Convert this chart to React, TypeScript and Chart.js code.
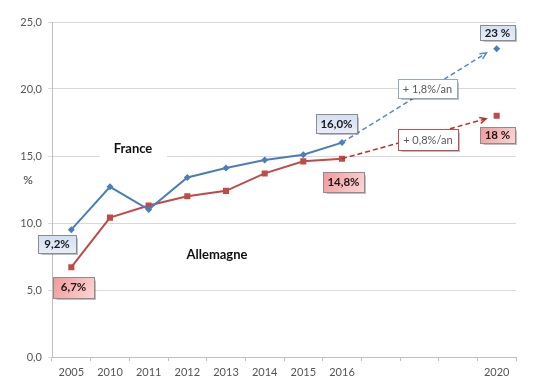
import React, { useEffect, useRef } from "react";
import { Chart, registerables } from "chart.js";

Chart.register(...registerables);

const categories = ["2005", "2010", "2011", "2012", "2013", "2014", "2015", "2016", "", "", "", "2020"];
const france = [9.5, 12.7, 11.0, 13.4, 14.1, 14.7, 15.1, 16.0, null, null, null, 23.0];
const allemagne = [6.7, 10.4, 11.3, 12.0, 12.4, 13.7, 14.6, 14.8, null, null, null, 18.0];
const yTicks = [0, 5, 10, 15, 20, 25];

const BLUE = "#4A7EBB";
const RED = "#BE4B48";
const FONT = "Lato, 'Liberation Sans', sans-serif";

type Box = { text: string; x: number; y: number; w: number; h: number; kind: "blue" | "red" | "plainBlue" | "plainRed" };
const boxes: Box[] = [
  { text: "9,2%", x: -0.37, y: 8.43, w: 38, h: 18, kind: "blue" },
  { text: "6,7%", x: 0.056, y: 5.22, w: 41, h: 21, kind: "red" },
  { text: "16,0%", x: 6.857, y: 17.43, w: 41, h: 19, kind: "blue" },
  { text: "14,8%", x: 7.038, y: 13.06, w: 41, h: 20, kind: "red" },
  { text: "23 %", x: 11.02, y: 24.22, w: 35, h: 15, kind: "blue" },
  { text: "18 %", x: 11.02, y: 16.57, w: 35, h: 16, kind: "red" },
  { text: "+ 1,8%/an", x: 9.21, y: 20.04, w: 59, h: 19, kind: "plainBlue" },
  { text: "+ 0,8%/an", x: 9.22, y: 16.23, w: 60, h: 21, kind: "plainRed" },
];
const seriesLabels = [
  { text: "France", x: 1.595, y: 15.52, bg: true },
  { text: "Allemagne", x: 3.767, y: 7.61, bg: false },
];

const overlayPlugin = {
  id: "overlay",
  afterDatasetsDraw(chart: any) {
    const ctx = chart.ctx;
    const xs = chart.scales.x;
    const ys = chart.scales.y;
    const proj = [
      { data: france, color: "#5b87c2", shorten: 12, dy: -2 },
      { data: allemagne, color: "#b8302c", shorten: 11, dy: 0 },
    ];
    proj.forEach((p) => {
      const x0 = xs.getPixelForValue(7);
      const y0 = ys.getPixelForValue(p.data[7] as number);
      const x1r = xs.getPixelForValue(11);
      const y1r = ys.getPixelForValue(p.data[11] as number);
      const dx = x1r - x0, dy = y1r - y0;
      const len = Math.hypot(dx, dy);
      const ux = dx / len, uy = dy / len;
      const x1 = x1r - ux * p.shorten, y1 = y1r - uy * p.shorten + p.dy;
      ctx.save();
      ctx.strokeStyle = p.color;
      ctx.lineWidth = 1.5;
      ctx.setLineDash([5, 3]);
      ctx.beginPath();
      ctx.moveTo(x0, y0);
      ctx.lineTo(x1, y1);
      ctx.stroke();
      ctx.setLineDash([]);
      const ang = Math.atan2(y1 - y0, x1 - x0);
      const al = 7;
      ctx.beginPath();
      ctx.moveTo(x1 - al * Math.cos(ang - 0.45), y1 - al * Math.sin(ang - 0.45));
      ctx.lineTo(x1, y1);
      ctx.lineTo(x1 - al * Math.cos(ang + 0.45), y1 - al * Math.sin(ang + 0.45));
      ctx.stroke();
      ctx.restore();
    });

    seriesLabels.forEach((l) => {
      const cx = xs.getPixelForValue(l.x);
      const cy = ys.getPixelForValue(l.y);
      ctx.save();
      ctx.font = `bold 13px ${FONT}`;
      if (l.bg) {
        ctx.fillStyle = "#ffffff";
        ctx.fillRect(cx - 33, cy - 9, 67, 19);
      }
      ctx.fillStyle = "#111111";
      ctx.textAlign = "center";
      ctx.textBaseline = "middle";
      ctx.fillText(l.text, cx, cy);
      ctx.restore();
    });

    boxes.forEach((b) => {
      const cx = xs.getPixelForValue(b.x);
      const cy = ys.getPixelForValue(b.y);
      const x = Math.round(cx - b.w / 2) + 0.5;
      const y = Math.round(cy - b.h / 2) + 0.5;
      ctx.save();
      let fill: any = "#ffffff";
      let stroke = "#8c8c8c";
      let font = `bold 11.5px ${FONT}`;
      let color = "#1a1a1a";
      if (b.kind === "blue") {
        const g = ctx.createLinearGradient(x, y, x, y + b.h);
        g.addColorStop(0, "#d3e0f3");
        g.addColorStop(1, "#e8eef8");
        fill = g;
      } else if (b.kind === "red") {
        const g = ctx.createLinearGradient(x, y, x + b.w, y + b.h);
        g.addColorStop(0, "#f29a9a");
        g.addColorStop(1, "#fcd6d6");
        fill = g;
      } else {
        font = `11px ${FONT}`;
        color = "#595959";
        stroke = b.kind === "plainBlue" ? "#8fa9c9" : "#c0504d";
      }
      ctx.shadowColor = "rgba(0,0,0,0.25)";
      ctx.shadowOffsetX = 1;
      ctx.shadowOffsetY = 1;
      ctx.shadowBlur = 1;
      ctx.fillStyle = fill;
      ctx.fillRect(x, y, b.w, b.h);
      ctx.shadowColor = "transparent";
      ctx.strokeStyle = stroke;
      ctx.lineWidth = 1;
      ctx.strokeRect(x, y, b.w, b.h);
      ctx.fillStyle = color;
      ctx.font = font;
      ctx.textAlign = "center";
      ctx.textBaseline = "middle";
      ctx.fillText(b.text, cx, cy + 0.5);
      ctx.restore();
    });

    ctx.save();
    ctx.font = `12px ${FONT}`;
    ctx.fillStyle = "#333333";
    ctx.textAlign = "center";
    ctx.textBaseline = "middle";
    ctx.fillText("%", 28, ys.getPixelForValue(13.2));
    ctx.restore();
  },
};

export default function App() {
  const ref = useRef<HTMLCanvasElement | null>(null);
  useEffect(() => {
    if (!ref.current) return;
    const chart = new Chart(ref.current, {
      type: "line",
      data: {
        labels: categories,
        datasets: [
          {
            label: "France",
            data: france,
            borderColor: BLUE,
            backgroundColor: BLUE,
            borderWidth: 2,
            pointStyle: "rectRot",
            pointRadius: 3.5,
            pointBorderWidth: 0,
            spanGaps: false,
            tension: 0,
          },
          {
            label: "Allemagne",
            data: allemagne,
            borderColor: RED,
            backgroundColor: RED,
            borderWidth: 2,
            pointStyle: "rect",
            pointRadius: 4.3,
            pointBorderWidth: 0,
            spanGaps: false,
            tension: 0,
          },
        ],
      },
      options: {
        animation: false,
        responsive: true,
        maintainAspectRatio: false,
        layout: { padding: { top: 22, right: 24, left: 0, bottom: 0 } },
        plugins: { legend: { display: false }, tooltip: { enabled: false } },
        scales: {
          x: {
            type: "category",
            offset: true,
            grid: {
              offset: true,
              drawOnChartArea: false,
              drawTicks: true,
              tickLength: 4,
              color: "#bfbfbf",
            },
            border: { color: "#bfbfbf", width: 1 },
            ticks: {
              autoSkip: false,
              maxRotation: 0,
              padding: 5,
              color: "#555555",
              font: { family: FONT, size: 11 },
            },
            afterFit(s: any) {
              s.height = 34;
            },
          },
          y: {
            min: 0,
            max: 25,
            afterBuildTicks(s: any) {
              s.ticks = yTicks.map((v) => ({ value: v }));
            },
            grid: { color: "#d9d9d9", tickLength: 4, drawTicks: true },
            border: { color: "#bfbfbf", width: 1 },
            ticks: {
              padding: 6,
              color: "#555555",
              font: { family: FONT, size: 11 },
              callback: (v: any) => Number(v).toFixed(1).replace(".", ","),
            },
            afterFit(s: any) {
              s.width = 52;
            },
          },
        },
      },
      plugins: [overlayPlugin],
    });
    return () => chart.destroy();
  }, []);
  return (
    <div style={{ position: "fixed", left: 0, top: 0, width: 540, height: 391, background: "#fff" }}>
      <canvas ref={ref} />
    </div>
  );
}
